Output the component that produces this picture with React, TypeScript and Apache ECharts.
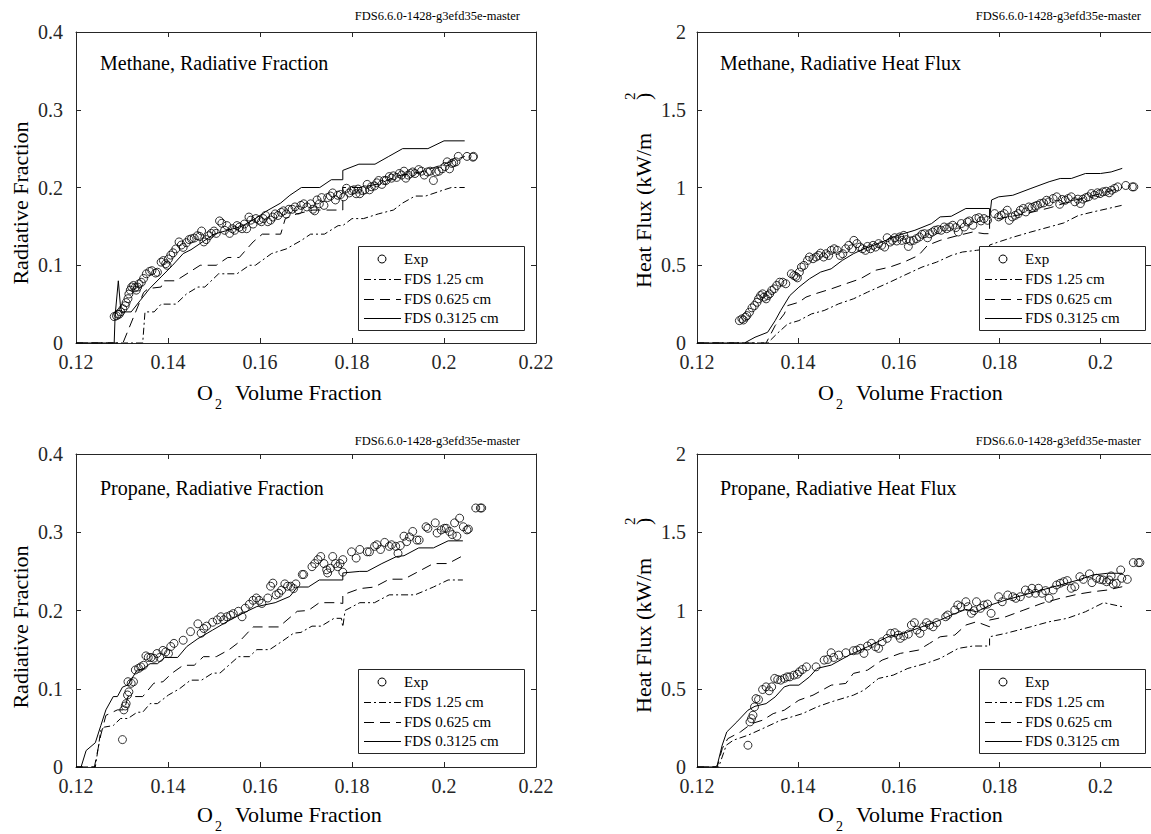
import React, { useEffect, useRef } from "react";
import * as echarts from "echarts";

type Pt = [number, number];

// ---------- tick values / labels ----------
const xTickValues = [0.12, 0.14, 0.16, 0.18, 0.2, 0.22];
const rightXMax = 0.21; // right-hand panels are cut at the picture edge
const fracTicks = [0, 0.1, 0.2, 0.3, 0.4];
const fluxTicks = [0, 0.5, 1, 1.5, 2];

const legendLabels = ["Exp", "FDS 1.25 cm", "FDS 0.625 cm", "FDS 0.3125 cm"];
const panelTitles = [
  "Methane, Radiative Fraction",
  "Methane, Radiative Heat Flux",
  "Propane, Radiative Fraction",
  "Propane, Radiative Heat Flux",
];
const versionLabel = "FDS6.6.0-1428-g3efd35e-master";
const fracAxisTitle = "Radiative Fraction";
const fluxAxisTitle = "Heat Flux (kW/m";
const xAxisTitle = "Volume Fraction";

// ---------- Methane, radiative fraction ----------
const methaneFracExp: Pt[] = [
  [0.1283, 0.034], [0.1288, 0.035], [0.1291, 0.037], [0.1294, 0.037], [0.1297, 0.04], [0.1302, 0.044],
  [0.1307, 0.048], [0.1309, 0.052], [0.1313, 0.057], [0.1315, 0.063], [0.1318, 0.068], [0.1321, 0.072],
  [0.1325, 0.074], [0.1328, 0.071], [0.1331, 0.068], [0.1334, 0.072], [0.1337, 0.076], [0.1342, 0.078],
  [0.1347, 0.083], [0.1353, 0.089], [0.136, 0.092], [0.1365, 0.093], [0.1373, 0.09], [0.1377, 0.091],
  [0.1385, 0.104], [0.139, 0.106], [0.1395, 0.102], [0.1398, 0.1], [0.1401, 0.108], [0.1406, 0.113],
  [0.1411, 0.116], [0.1417, 0.121], [0.1424, 0.13], [0.1429, 0.126], [0.1433, 0.123], [0.144, 0.129],
  [0.1446, 0.133], [0.1451, 0.134], [0.1457, 0.135], [0.1464, 0.138], [0.1469, 0.137], [0.1473, 0.144],
  [0.1478, 0.13], [0.1483, 0.133], [0.1489, 0.138], [0.1494, 0.141], [0.15, 0.144], [0.1505, 0.141],
  [0.1512, 0.157], [0.1517, 0.154], [0.1523, 0.145], [0.1528, 0.151], [0.1534, 0.141], [0.154, 0.147],
  [0.1545, 0.145], [0.155, 0.151], [0.1555, 0.149], [0.1561, 0.147], [0.1566, 0.153], [0.1571, 0.147],
  [0.1576, 0.162], [0.158, 0.158], [0.1585, 0.153], [0.1591, 0.16], [0.1598, 0.158], [0.1603, 0.156],
  [0.1607, 0.16], [0.1612, 0.164], [0.1617, 0.156], [0.1623, 0.158], [0.1628, 0.162], [0.1633, 0.166],
  [0.1639, 0.164], [0.1646, 0.168], [0.1651, 0.17], [0.1657, 0.166], [0.1663, 0.172], [0.167, 0.172],
  [0.1676, 0.175], [0.1683, 0.171], [0.1689, 0.177], [0.1695, 0.179], [0.1702, 0.175], [0.171, 0.179],
  [0.1715, 0.172], [0.1719, 0.17], [0.1724, 0.184], [0.1729, 0.179], [0.1734, 0.187], [0.1739, 0.177],
  [0.1747, 0.187], [0.1753, 0.189], [0.1758, 0.193], [0.1764, 0.184], [0.1769, 0.19], [0.1775, 0.191],
  [0.1782, 0.188], [0.1788, 0.199], [0.1794, 0.193], [0.1799, 0.196], [0.1804, 0.197], [0.1809, 0.192],
  [0.1813, 0.198], [0.1817, 0.192], [0.1823, 0.196], [0.1828, 0.197], [0.1833, 0.204], [0.1838, 0.197],
  [0.1842, 0.201], [0.1849, 0.202], [0.1854, 0.206], [0.1858, 0.209], [0.1865, 0.204], [0.187, 0.209],
  [0.1874, 0.209], [0.1881, 0.214], [0.1886, 0.212], [0.189, 0.215], [0.1897, 0.213], [0.1903, 0.218],
  [0.1908, 0.216], [0.1913, 0.221], [0.1917, 0.212], [0.1922, 0.216], [0.1927, 0.218], [0.1932, 0.22],
  [0.1937, 0.218], [0.1945, 0.223], [0.1951, 0.221], [0.1957, 0.216], [0.1964, 0.22], [0.197, 0.221],
  [0.1977, 0.209], [0.1983, 0.22], [0.1989, 0.221], [0.1996, 0.224], [0.2002, 0.227], [0.2007, 0.233],
  [0.2012, 0.224], [0.2017, 0.231], [0.2021, 0.232], [0.2026, 0.233], [0.2031, 0.24], [0.205, 0.24],
  [0.2063, 0.239], [0.2064, 0.24],
];
const methaneFrac125: Pt[] = [
  [0.12, 0], [0.1345, 0], [0.135, 0.04], [0.137, 0.04], [0.1385, 0.05], [0.1417, 0.05], [0.144, 0.063],
  [0.1465, 0.072], [0.148, 0.072], [0.151, 0.089], [0.155, 0.089], [0.1577, 0.1], [0.159, 0.1],
  [0.1625, 0.115], [0.1657, 0.121], [0.169, 0.132], [0.171, 0.14], [0.174, 0.14], [0.177, 0.151],
  [0.178, 0.151], [0.18, 0.16], [0.1825, 0.16], [0.1857, 0.166], [0.189, 0.171], [0.191, 0.18],
  [0.1937, 0.189], [0.196, 0.189], [0.2, 0.197], [0.2016, 0.2], [0.2045, 0.2],
];
const methaneFrac0625: Pt[] = [
  [0.12, 0], [0.1302, 0], [0.1347, 0.065], [0.1357, 0.07], [0.1385, 0.072], [0.139, 0.08], [0.1417, 0.08],
  [0.147, 0.1], [0.1505, 0.1], [0.153, 0.11], [0.1555, 0.11], [0.1585, 0.13], [0.1605, 0.14], [0.1645, 0.14],
  [0.1655, 0.16], [0.168, 0.166], [0.1715, 0.171], [0.178, 0.171], [0.178, 0.2], [0.182, 0.2],
  [0.186, 0.205], [0.19, 0.215], [0.195, 0.22], [0.2, 0.23], [0.2045, 0.24],
];
const methaneFrac03125: Pt[] = [
  [0.12, 0], [0.1283, 0], [0.1285, 0.035], [0.1292, 0.08], [0.1297, 0.045], [0.13, 0.04], [0.132, 0.04],
  [0.134, 0.055], [0.136, 0.07], [0.1385, 0.085], [0.141, 0.1], [0.1433, 0.115], [0.145, 0.12],
  [0.1475, 0.13], [0.15, 0.14], [0.153, 0.145], [0.156, 0.15], [0.159, 0.16], [0.1615, 0.17],
  [0.1645, 0.18], [0.1665, 0.19], [0.169, 0.2], [0.173, 0.2], [0.1755, 0.21], [0.178, 0.21],
  [0.178, 0.222], [0.1815, 0.23], [0.185, 0.23], [0.188, 0.24], [0.191, 0.25], [0.1965, 0.25],
  [0.2, 0.26], [0.2045, 0.26],
];

// ---------- Methane, radiative heat flux ----------
const methaneFluxExp: Pt[] = [
  [0.1284, 0.144], [0.1289, 0.155], [0.1292, 0.148], [0.1296, 0.166], [0.1299, 0.176], [0.1304, 0.198],
  [0.1309, 0.226], [0.1314, 0.241], [0.1319, 0.262], [0.1322, 0.284], [0.1326, 0.305], [0.133, 0.316],
  [0.1333, 0.295], [0.1337, 0.284], [0.134, 0.305], [0.1344, 0.316], [0.1348, 0.338], [0.1353, 0.348],
  [0.1358, 0.37], [0.1364, 0.391], [0.137, 0.391], [0.1376, 0.381], [0.1387, 0.445], [0.1392, 0.434],
  [0.1396, 0.428], [0.1399, 0.419], [0.1403, 0.456], [0.1407, 0.488], [0.1412, 0.499], [0.1419, 0.531],
  [0.1423, 0.553], [0.143, 0.542], [0.1436, 0.553], [0.1441, 0.563], [0.1445, 0.578], [0.1451, 0.553],
  [0.1456, 0.574], [0.1461, 0.563], [0.1466, 0.596], [0.1472, 0.606], [0.1478, 0.596], [0.1484, 0.563],
  [0.1489, 0.574], [0.1495, 0.606], [0.1501, 0.628], [0.1507, 0.606], [0.1511, 0.66], [0.1517, 0.639],
  [0.1523, 0.617], [0.1528, 0.606], [0.1534, 0.596], [0.1538, 0.621], [0.1544, 0.606], [0.1549, 0.628],
  [0.1554, 0.617], [0.156, 0.639], [0.1566, 0.628], [0.1572, 0.617], [0.1577, 0.677], [0.1583, 0.649],
  [0.1587, 0.66], [0.1592, 0.677], [0.1596, 0.656], [0.1602, 0.682], [0.1606, 0.66], [0.161, 0.692],
  [0.1615, 0.665], [0.1619, 0.621], [0.1623, 0.656], [0.1629, 0.66], [0.1635, 0.671], [0.1641, 0.682],
  [0.1646, 0.699], [0.1651, 0.703], [0.1657, 0.677], [0.1661, 0.703], [0.1667, 0.714], [0.1672, 0.725],
  [0.1678, 0.729], [0.1684, 0.725], [0.169, 0.746], [0.1695, 0.735], [0.1701, 0.746], [0.1707, 0.757],
  [0.1713, 0.742], [0.1718, 0.714], [0.1724, 0.768], [0.173, 0.746], [0.1736, 0.778], [0.174, 0.785],
  [0.1747, 0.757], [0.1753, 0.8], [0.1759, 0.806], [0.1763, 0.785], [0.1769, 0.8], [0.1776, 0.789],
  [0.179, 0.832], [0.1798, 0.811], [0.1803, 0.821], [0.1809, 0.832], [0.1815, 0.854], [0.1819, 0.789],
  [0.1825, 0.811], [0.1831, 0.821], [0.1837, 0.832], [0.1841, 0.854], [0.1847, 0.865], [0.1852, 0.843],
  [0.1858, 0.875], [0.1864, 0.871], [0.187, 0.88], [0.1875, 0.886], [0.1881, 0.897], [0.1887, 0.901],
  [0.1893, 0.918], [0.1898, 0.908], [0.1906, 0.929], [0.1913, 0.94], [0.1919, 0.892], [0.1924, 0.923],
  [0.193, 0.918], [0.1936, 0.929], [0.1942, 0.94], [0.1949, 0.908], [0.1955, 0.925], [0.196, 0.897],
  [0.1965, 0.925], [0.1971, 0.935], [0.1976, 0.94], [0.1982, 0.961], [0.1988, 0.951], [0.1994, 0.966],
  [0.1999, 0.961], [0.2005, 0.972], [0.2011, 0.976], [0.2017, 0.966], [0.2022, 0.983], [0.2028, 0.994],
  [0.2034, 1.004], [0.205, 1.013], [0.2063, 1.004], [0.2066, 1.004],
];
const methaneFlux125: Pt[] = [
  [0.12, 0], [0.134, 0], [0.1358, 0.058], [0.138, 0.123], [0.1402, 0.144], [0.1427, 0.187], [0.1452, 0.209],
  [0.1481, 0.252], [0.151, 0.284], [0.1538, 0.327], [0.1582, 0.391], [0.161, 0.434], [0.1646, 0.488],
  [0.1675, 0.52], [0.1704, 0.563], [0.1726, 0.585], [0.1754, 0.596], [0.178, 0.606], [0.178, 0.63],
  [0.1798, 0.65], [0.1826, 0.68], [0.1862, 0.714], [0.1898, 0.746], [0.1927, 0.772], [0.1956, 0.82],
  [0.1985, 0.843], [0.2014, 0.864], [0.2043, 0.886],
];
const methaneFlux0625: Pt[] = [
  [0.12, 0], [0.1337, 0], [0.1355, 0.112], [0.1373, 0.187], [0.138, 0.241], [0.1402, 0.262], [0.1416, 0.295],
  [0.1434, 0.316], [0.1466, 0.348], [0.1495, 0.381], [0.1524, 0.413], [0.1553, 0.467], [0.1582, 0.488],
  [0.161, 0.52], [0.1639, 0.563], [0.1657, 0.628], [0.1682, 0.66], [0.1718, 0.692], [0.1747, 0.714],
  [0.1769, 0.703], [0.178, 0.703], [0.178, 0.79], [0.185, 0.83], [0.19, 0.87], [0.195, 0.92], [0.2, 0.96],
  [0.2043, 1.0],
];
const methaneFlux03125: Pt[] = [
  [0.12, 0], [0.1294, 0], [0.1315, 0.037], [0.134, 0.069], [0.1355, 0.144], [0.1366, 0.209], [0.1384, 0.305],
  [0.1402, 0.359], [0.1423, 0.413], [0.1445, 0.456], [0.1466, 0.477], [0.1488, 0.531], [0.151, 0.574],
  [0.1531, 0.606], [0.156, 0.64], [0.1596, 0.69], [0.1632, 0.725], [0.1665, 0.768], [0.1682, 0.811],
  [0.1704, 0.815], [0.1733, 0.865], [0.178, 0.865], [0.178, 0.8], [0.1784, 0.92], [0.1798, 0.94],
  [0.1826, 0.95], [0.1862, 0.994], [0.1898, 1.037], [0.192, 1.058], [0.1942, 1.058], [0.197, 1.09],
  [0.2, 1.09], [0.2021, 1.1], [0.2043, 1.123],
];

// ---------- Propane, radiative fraction ----------
const propaneFracExp: Pt[] = [
  [0.1301, 0.035], [0.1304, 0.073], [0.1307, 0.078], [0.1309, 0.081], [0.1312, 0.092], [0.1315, 0.096],
  [0.1313, 0.109], [0.132, 0.107], [0.1325, 0.109], [0.1329, 0.124], [0.1336, 0.126], [0.1341, 0.128],
  [0.1347, 0.13], [0.1352, 0.142], [0.1357, 0.14], [0.1363, 0.14], [0.1369, 0.139], [0.1376, 0.145],
  [0.1382, 0.14], [0.1389, 0.149], [0.1395, 0.147], [0.1401, 0.145], [0.1406, 0.154], [0.1413, 0.158],
  [0.1433, 0.162], [0.1449, 0.173], [0.1465, 0.183], [0.1472, 0.171], [0.1478, 0.177], [0.1484, 0.18],
  [0.1497, 0.185], [0.1507, 0.188], [0.1515, 0.192], [0.1521, 0.188], [0.1528, 0.192], [0.1536, 0.194],
  [0.1542, 0.196], [0.1553, 0.199], [0.1561, 0.192], [0.1568, 0.203], [0.1577, 0.208], [0.1585, 0.213],
  [0.1592, 0.216], [0.1598, 0.213], [0.1604, 0.209], [0.1617, 0.216], [0.1623, 0.231], [0.1628, 0.235],
  [0.1635, 0.22], [0.1641, 0.222], [0.1647, 0.226], [0.1654, 0.234], [0.166, 0.231], [0.1667, 0.231],
  [0.1673, 0.228], [0.1678, 0.234], [0.1692, 0.246], [0.1695, 0.246], [0.1713, 0.256], [0.1719, 0.26],
  [0.1726, 0.265], [0.1732, 0.269], [0.1739, 0.26], [0.1745, 0.252], [0.1747, 0.248], [0.1753, 0.254],
  [0.1758, 0.269], [0.1764, 0.26], [0.1769, 0.256], [0.1774, 0.26], [0.178, 0.249], [0.178, 0.265],
  [0.1799, 0.275], [0.1809, 0.267], [0.1817, 0.278], [0.1833, 0.275], [0.1838, 0.275], [0.1849, 0.282],
  [0.1854, 0.284], [0.1862, 0.278], [0.1871, 0.287], [0.1881, 0.282], [0.1886, 0.284], [0.1895, 0.282],
  [0.19, 0.273], [0.1905, 0.283], [0.1913, 0.295], [0.1919, 0.288], [0.1925, 0.294], [0.1932, 0.301],
  [0.1941, 0.29], [0.1946, 0.29], [0.1961, 0.307], [0.1965, 0.305], [0.1981, 0.312], [0.1985, 0.299],
  [0.1994, 0.303], [0.2001, 0.305], [0.2005, 0.305], [0.2012, 0.301], [0.2018, 0.297], [0.2023, 0.312],
  [0.2028, 0.295], [0.2034, 0.318], [0.2042, 0.307], [0.205, 0.303], [0.2053, 0.304], [0.2069, 0.331],
  [0.2079, 0.331], [0.2082, 0.331],
];
const propaneFrac125: Pt[] = [
  [0.12, 0], [0.1242, 0], [0.1254, 0.047], [0.1262, 0.051], [0.1281, 0.053], [0.1297, 0.062], [0.1313, 0.062],
  [0.1333, 0.07], [0.1345, 0.07], [0.1361, 0.081], [0.1377, 0.081], [0.1401, 0.092], [0.1425, 0.1],
  [0.1449, 0.111], [0.1473, 0.111], [0.1497, 0.12], [0.1513, 0.12], [0.1553, 0.141], [0.1577, 0.141],
  [0.1593, 0.15], [0.1621, 0.15], [0.1649, 0.161], [0.1673, 0.171], [0.1689, 0.172], [0.1713, 0.18],
  [0.1733, 0.18], [0.1761, 0.19], [0.1777, 0.19], [0.178, 0.179], [0.1785, 0.2], [0.1817, 0.21],
  [0.1849, 0.21], [0.1881, 0.22], [0.1937, 0.22], [0.1977, 0.23], [0.2009, 0.239], [0.2041, 0.239],
];
const propaneFrac0625: Pt[] = [
  [0.12, 0], [0.124, 0], [0.1254, 0.041], [0.1265, 0.066], [0.129, 0.073], [0.1305, 0.073], [0.1313, 0.09],
  [0.1345, 0.09], [0.1369, 0.107], [0.1389, 0.109], [0.1409, 0.12], [0.1433, 0.13], [0.1457, 0.13],
  [0.1477, 0.141], [0.1505, 0.141], [0.1533, 0.15], [0.1553, 0.159], [0.1585, 0.179], [0.1641, 0.179],
  [0.1681, 0.199], [0.1705, 0.2], [0.1729, 0.21], [0.1769, 0.21], [0.178, 0.209], [0.178, 0.22],
  [0.1817, 0.228], [0.1849, 0.23], [0.1881, 0.24], [0.1913, 0.24], [0.1945, 0.25], [0.1977, 0.26],
  [0.2009, 0.26], [0.2041, 0.27],
];
const propaneFrac03125: Pt[] = [
  [0.12, 0], [0.1211, 0], [0.1222, 0.021], [0.1242, 0.031], [0.1254, 0.053], [0.1265, 0.073], [0.1281, 0.09],
  [0.129, 0.09], [0.1301, 0.102], [0.1313, 0.105], [0.1333, 0.124], [0.1345, 0.125], [0.1361, 0.132],
  [0.1377, 0.132], [0.1393, 0.14], [0.1421, 0.14], [0.1441, 0.154], [0.1465, 0.164], [0.1497, 0.175],
  [0.1529, 0.186], [0.1561, 0.196], [0.1593, 0.205], [0.1633, 0.21], [0.1665, 0.218], [0.1681, 0.23],
  [0.1705, 0.23], [0.1729, 0.239], [0.178, 0.239], [0.178, 0.248], [0.1817, 0.25], [0.1833, 0.25],
  [0.1865, 0.26], [0.1897, 0.269], [0.1913, 0.27], [0.1945, 0.28], [0.1977, 0.28], [0.2009, 0.289],
  [0.2041, 0.289],
];

// ---------- Propane, radiative heat flux ----------
const propaneFluxExp: Pt[] = [
  [0.1301, 0.139], [0.1305, 0.288], [0.1308, 0.309], [0.1311, 0.331], [0.1314, 0.384], [0.1317, 0.437],
  [0.1322, 0.431], [0.133, 0.495], [0.1337, 0.512], [0.1343, 0.487], [0.1348, 0.512], [0.1354, 0.566],
  [0.136, 0.559], [0.1366, 0.555], [0.1373, 0.566], [0.1379, 0.576], [0.1384, 0.576], [0.1392, 0.587],
  [0.1399, 0.593], [0.1403, 0.608], [0.1409, 0.623], [0.1417, 0.64], [0.1436, 0.64], [0.1452, 0.683],
  [0.1459, 0.687], [0.1466, 0.73], [0.1471, 0.7], [0.1481, 0.715], [0.1495, 0.73], [0.151, 0.743],
  [0.1517, 0.747], [0.1524, 0.758], [0.1531, 0.726], [0.1538, 0.773], [0.1546, 0.79], [0.1554, 0.768],
  [0.156, 0.758], [0.1567, 0.8], [0.1577, 0.822], [0.1584, 0.854], [0.1592, 0.858], [0.1599, 0.843],
  [0.1603, 0.822], [0.161, 0.837], [0.1619, 0.849], [0.1625, 0.907], [0.1631, 0.922], [0.1636, 0.875],
  [0.1642, 0.854], [0.1649, 0.896], [0.1655, 0.922], [0.1661, 0.907], [0.1668, 0.896], [0.1675, 0.922],
  [0.1693, 0.96], [0.1697, 0.971], [0.1711, 1.003], [0.1717, 1.035], [0.1723, 1.024], [0.1733, 1.056],
  [0.1737, 1.024], [0.1744, 0.982], [0.1749, 0.999], [0.1754, 1.056], [0.1762, 1.014], [0.1769, 1.035],
  [0.1776, 1.041], [0.1783, 0.982], [0.1798, 1.088], [0.1805, 1.056], [0.1816, 1.099], [0.1826, 1.088],
  [0.1832, 1.078], [0.1841, 1.088], [0.1851, 1.131], [0.1858, 1.11], [0.1864, 1.142], [0.1871, 1.11],
  [0.1877, 1.142], [0.1884, 1.11], [0.1891, 1.127], [0.1898, 1.078], [0.1906, 1.131], [0.1913, 1.163],
  [0.192, 1.174], [0.1927, 1.184], [0.1934, 1.191], [0.1942, 1.142], [0.1949, 1.152], [0.1959, 1.216],
  [0.1966, 1.199], [0.1978, 1.234], [0.1983, 1.178], [0.1992, 1.206], [0.1999, 1.199], [0.2005, 1.195],
  [0.2012, 1.184], [0.2017, 1.195], [0.2021, 1.221], [0.2025, 1.169], [0.2031, 1.174], [0.204, 1.259],
  [0.2042, 1.206], [0.2053, 1.199], [0.2065, 1.306], [0.2075, 1.306], [0.2078, 1.306],
];
const propaneFlux125: Pt[] = [
  [0.12, 0], [0.1243, 0], [0.1258, 0.139], [0.1272, 0.171], [0.1301, 0.203], [0.133, 0.245], [0.1366, 0.299],
  [0.1409, 0.341], [0.1438, 0.384], [0.1466, 0.416], [0.151, 0.459], [0.1531, 0.491], [0.156, 0.566],
  [0.1589, 0.587], [0.1618, 0.63], [0.1654, 0.662], [0.1682, 0.694], [0.1718, 0.758], [0.1747, 0.773],
  [0.178, 0.773], [0.178, 0.832], [0.1812, 0.854], [0.1862, 0.896], [0.1898, 0.928], [0.1934, 0.95],
  [0.197, 0.992], [0.2006, 1.05], [0.2043, 1.024],
];
const propaneFlux0625: Pt[] = [
  [0.12, 0], [0.124, 0], [0.125, 0.117], [0.1261, 0.181], [0.1286, 0.224], [0.1308, 0.277], [0.133, 0.299],
  [0.1351, 0.341], [0.1373, 0.363], [0.1402, 0.427], [0.143, 0.459], [0.1466, 0.523], [0.1495, 0.534],
  [0.151, 0.598], [0.1538, 0.619], [0.1567, 0.683], [0.1603, 0.726], [0.1639, 0.747], [0.1661, 0.79],
  [0.1682, 0.832], [0.1711, 0.843], [0.1733, 0.907], [0.1754, 0.928], [0.178, 0.896], [0.178, 0.939],
  [0.1812, 0.96], [0.1848, 1.003], [0.1884, 1.046], [0.192, 1.078], [0.1956, 1.105], [0.1985, 1.12],
  [0.2014, 1.131], [0.2043, 1.152],
];
const propaneFlux03125: Pt[] = [
  [0.12, 0], [0.1236, 0], [0.124, 0.01], [0.125, 0.14], [0.1259, 0.224], [0.1279, 0.288], [0.1301, 0.363],
  [0.1315, 0.388], [0.1337, 0.405], [0.1355, 0.448], [0.1373, 0.512], [0.1384, 0.523], [0.1402, 0.523],
  [0.1423, 0.576], [0.1438, 0.63], [0.1466, 0.651], [0.1502, 0.715], [0.1538, 0.768], [0.1582, 0.837],
  [0.161, 0.854], [0.1646, 0.896], [0.1682, 0.939], [0.1704, 0.971], [0.1733, 1.007], [0.1754, 0.992],
  [0.1782, 1.035], [0.1812, 1.067], [0.1848, 1.099], [0.1884, 1.131], [0.192, 1.163], [0.1956, 1.195],
  [0.1985, 1.227], [0.2014, 1.238], [0.2043, 1.238],
];

// ---------- layout / style ----------
const FONT = "'Liberation Serif', 'DejaVu Serif', serif";
const AXIS_COLOR = "#262626";
const DASH = [10, 6];
const DASH_DOT = [7, 3, 2, 3];

type Panel = {
  left: number; top: number; width: number; height: number;
  xMax: number; yTicks: number[];
  exp: Pt[]; f125: Pt[]; f0625: Pt[]; f03125: Pt[];
  flux: boolean; labelMargin: number;
  legLeft: number; legTop: number; verX: number; verY: number;
  annX: number; annY: number; oX: number; oY: number; yTitleX: number; yTitleY: number;
};

const panels: Panel[] = [
  {
    left: 76, top: 32, width: 460, height: 311, xMax: xTickValues[xTickValues.length - 1], yTicks: fracTicks,
    exp: methaneFracExp, f125: methaneFrac125, f0625: methaneFrac0625, f03125: methaneFrac03125,
    flux: false, labelMargin: 13,
    legLeft: 358, legTop: 246, verX: 520, verY: 16, annX: 100, annY: 63, oX: 197, oY: 392, yTitleX: 20, yTitleY: 203,
  },
  {
    left: 697, top: 32, width: 459, height: 311, xMax: rightXMax, yTicks: fluxTicks,
    exp: methaneFluxExp, f125: methaneFlux125, f0625: methaneFlux0625, f03125: methaneFlux03125,
    flux: true, labelMargin: 11,
    legLeft: 979, legTop: 246, verX: 1141, verY: 16, annX: 720, annY: 63, oX: 818, oY: 392, yTitleX: 643, yTitleY: 288,
  },
  {
    left: 76, top: 454, width: 460, height: 313, xMax: xTickValues[xTickValues.length - 1], yTicks: fracTicks,
    exp: propaneFracExp, f125: propaneFrac125, f0625: propaneFrac0625, f03125: propaneFrac03125,
    flux: false, labelMargin: 13,
    legLeft: 358, legTop: 669, verX: 520, verY: 441, annX: 100, annY: 488, oX: 197, oY: 814, yTitleX: 20, yTitleY: 627,
  },
  {
    left: 697, top: 454, width: 459, height: 313, xMax: rightXMax, yTicks: fluxTicks,
    exp: propaneFluxExp, f125: propaneFlux125, f0625: propaneFlux0625, f03125: propaneFlux03125,
    flux: true, labelMargin: 11,
    legLeft: 979, legTop: 669, verX: 1141, verY: 441, annX: 720, annY: 488, oX: 818, oY: 814, yTitleX: 643, yTitleY: 713,
  },
];

function txt(x: number, y: number, text: string, size: number, align = "left", vAlign = "middle", extra: any = {}) {
  return {
    type: "text",
    x,
    y,
    z: 50,
    silent: true,
    ...extra,
    style: {
      text,
      font: `${size}px ${FONT}`,
      fill: "#000",
      align,
      verticalAlign: vAlign,
      textAlign: align,
      textVerticalAlign: vAlign,
    },
  };
}

function buildOption() {
  const grid: any[] = [];
  const xAxis: any[] = [];
  const yAxis: any[] = [];
  const series: any[] = [];
  const graphic: any[] = [];

  const xMin = xTickValues[0];
  const xInt = xTickValues[1] - xTickValues[0];

  panels.forEach((p, i) => {
    grid.push({ left: p.left, top: p.top, width: p.width, height: p.height, containLabel: false });
    const yMin = p.yTicks[0];
    const yMax = p.yTicks[p.yTicks.length - 1];
    const yInt = p.yTicks[1] - p.yTicks[0];
    const common = {
      splitLine: { show: false },
      axisLine: { show: true, onZero: false, lineStyle: { color: AXIS_COLOR, width: 1 } },
      axisTick: { show: true, inside: true, length: 5, lineStyle: { color: AXIS_COLOR, width: 1 } },
    };
    xAxis.push({
      type: "value", gridIndex: i, position: "bottom", min: xMin, max: p.xMax, interval: xInt, ...common,
      axisLabel: {
        color: AXIS_COLOR, fontSize: 20, fontFamily: FONT, margin: 9,
        showMaxLabel: p.xMax === xTickValues[xTickValues.length - 1],
        formatter: (v: number) => String(Math.round(v * 100) / 100),
      },
    });
    yAxis.push({
      type: "value", gridIndex: i, position: "left", min: yMin, max: yMax, interval: yInt, ...common,
      axisLabel: {
        color: AXIS_COLOR, fontSize: 20, fontFamily: FONT, margin: p.labelMargin,
        formatter: (v: number) => String(Math.round(v * 100) / 100),
      },
    });

    series.push({
      type: "scatter", name: legendLabels[0], xAxisIndex: i, yAxisIndex: i, data: p.exp,
      symbol: "circle", symbolSize: 8, silent: true, z: 3,
      itemStyle: { color: "rgba(0,0,0,0)", borderColor: "#000", borderWidth: 1 },
    });
    const lines: [Pt[], any][] = [[p.f125, DASH_DOT], [p.f0625, DASH], [p.f03125, "solid"]];
    lines.forEach(([d, dash], k) => {
      series.push({
        type: "line", name: legendLabels[k + 1], xAxisIndex: i, yAxisIndex: i, data: d,
        showSymbol: false, symbol: "none", silent: true, z: 2,
        lineStyle: { color: "#000", width: 1, type: dash },
      });
    });

    // annotation + version label
    graphic.push(txt(p.annX, p.annY, panelTitles[i], 20));
    graphic.push(txt(p.verX, p.verY, versionLabel, 12.5, "right"));
    // x axis title: O2 Volume Fraction
    graphic.push(txt(p.oX, p.oY, "O", 22));
    graphic.push(txt(p.oX + 18, p.oY + 12, "2", 14));
    graphic.push(txt(p.oX + 38, p.oY, xAxisTitle, 22));
    // y axis title
    if (!p.flux) {
      graphic.push(txt(p.yTitleX, p.yTitleY, fracAxisTitle, 22, "center", "middle", { rotation: Math.PI / 2 }));
    } else {
      graphic.push(txt(p.yTitleX, p.yTitleY, fluxAxisTitle, 22, "left", "middle", { rotation: Math.PI / 2 }));
      graphic.push(txt(p.yTitleX - 13, p.yTitleY - 188, "2", 15, "left", "middle", { rotation: Math.PI / 2 }));
      graphic.push(txt(p.yTitleX, p.yTitleY - 188, ")", 22, "left", "middle", { rotation: Math.PI / 2 }));
    }
    // legend box
    const L = p.legLeft;
    const T = p.legTop;
    graphic.push({
      type: "rect", z: 60, silent: true,
      shape: { x: L + 0.5, y: T + 0.5, width: 166, height: 84 },
      style: { fill: "#fff", stroke: "#262626", lineWidth: 1 },
    });
    const rows = [T + 13, T + 33, T + 53, T + 72];
    graphic.push({
      type: "circle", z: 61, silent: true,
      shape: { cx: L + 24, cy: rows[0], r: 4 },
      style: { fill: "none", stroke: "#000", lineWidth: 1 },
    });
    const dashes: any[] = [DASH_DOT, DASH, null];
    dashes.forEach((dd, k) => {
      graphic.push({
        type: "line", z: 61, silent: true,
        shape: { x1: L + 6, y1: rows[k + 1] + 0.5, x2: L + 43, y2: rows[k + 1] + 0.5 },
        style: { stroke: "#000", lineWidth: 1, lineDash: dd || undefined },
      });
    });
    legendLabels.forEach((lab, k) => {
      graphic.push({ ...txt(L + 46, rows[k], lab, 15), z: 62 });
    });
  });

  // top & right axes (closing the box)
  panels.forEach((p, i) => {
    const yMin = p.yTicks[0];
    const yMax = p.yTicks[p.yTicks.length - 1];
    const yInt = p.yTicks[1] - p.yTicks[0];
    const common = {
      splitLine: { show: false },
      axisLabel: { show: false },
      axisLine: { show: true, onZero: false, lineStyle: { color: AXIS_COLOR, width: 1 } },
      axisTick: { show: true, inside: true, length: 5, lineStyle: { color: AXIS_COLOR, width: 1 } },
    };
    xAxis.push({ type: "value", gridIndex: i, position: "top", min: xMin, max: p.xMax, interval: xInt, ...common });
    yAxis.push({ type: "value", gridIndex: i, position: "right", min: yMin, max: yMax, interval: yInt, ...common });
  });

  return {
    animation: false,
    backgroundColor: "#fff",
    grid,
    xAxis,
    yAxis,
    series,
    graphic: { elements: graphic },
  };
}

export default function App() {
  const ref = useRef<HTMLDivElement>(null);
  useEffect(() => {
    if (!ref.current) return;
    const chart = echarts.init(ref.current, undefined, { renderer: "svg" });
    chart.setOption(buildOption() as any);
    return () => chart.dispose();
  }, []);
  return (
    <div
      ref={ref}
      style={{ position: "absolute", left: 0, top: 0, width: 1151, height: 834, background: "#fff" }}
    />
  );
}
